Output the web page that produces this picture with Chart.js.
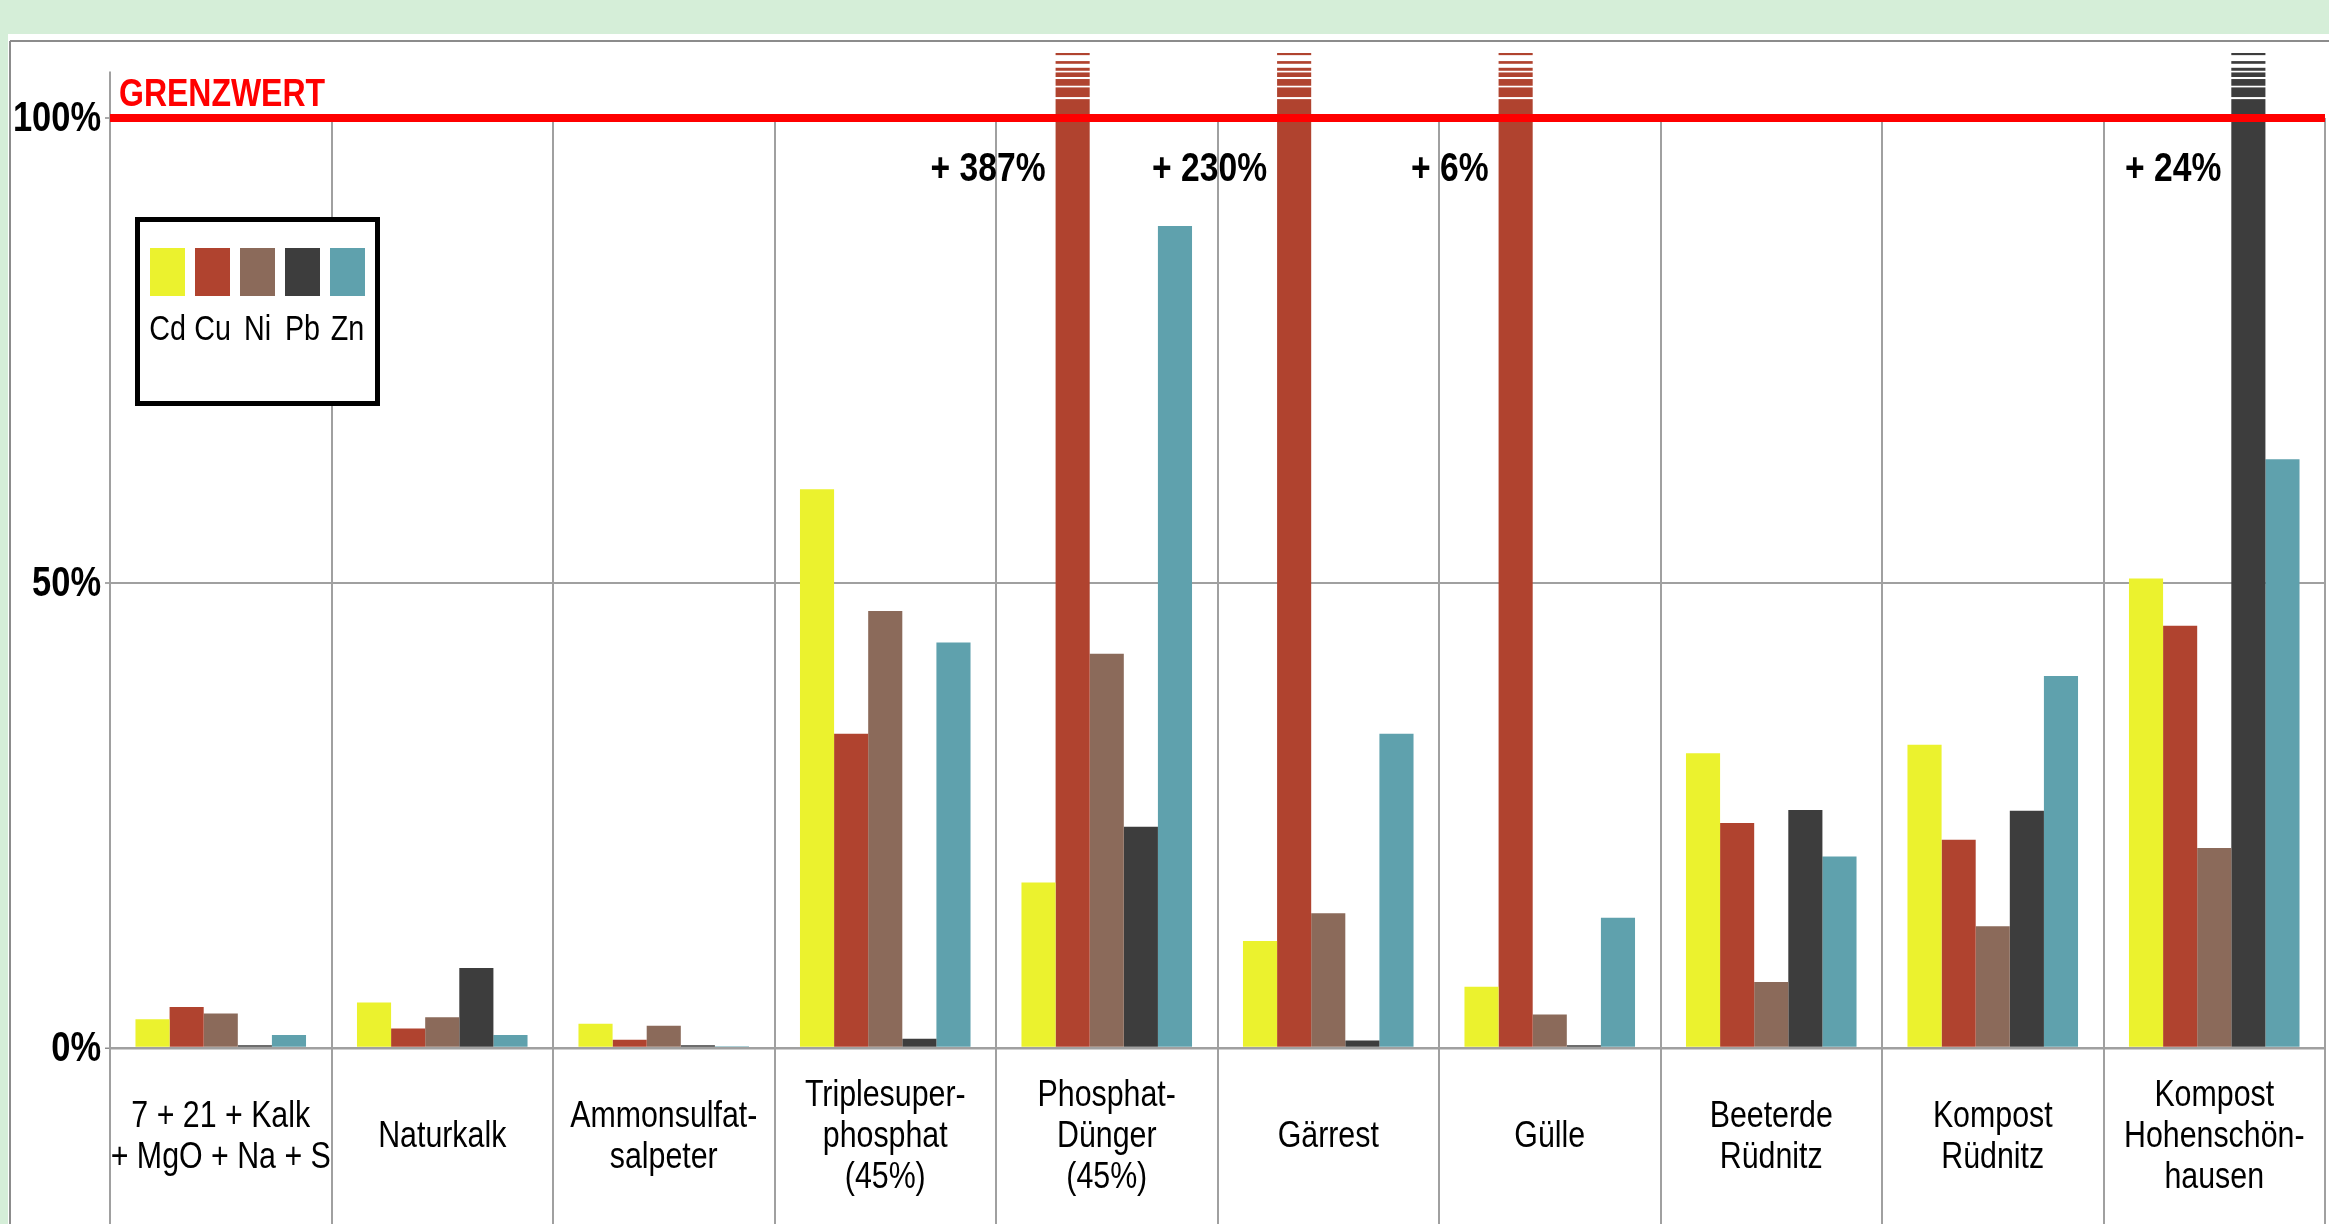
<!DOCTYPE html>
<html>
<head>
<meta charset="utf-8">
<title>Schwermetalle in Düngern</title>
<script src="https://cdn.jsdelivr.net/npm/chart.js@4.4.1/dist/chart.umd.min.js"></script>
<style>
  html, body { margin: 0; padding: 0; background: #d5eed8; overflow: hidden; }
  #wrap { width: 2329px; height: 1224px; }
</style>
</head>
<body>
<div id="wrap"><canvas id="metalChart" width="2329" height="1224"></canvas></div>
<script>
// categories (multi-line labels as in the original)
var categories = [
  ['7 + 21 + Kalk', '+ MgO + Na + S'],
  ['Naturkalk'],
  ['Ammonsulfat-', 'salpeter'],
  ['Triplesuper-', 'phosphat', '(45%)'],
  ['Phosphat-', 'Dünger', '(45%)'],
  ['Gärrest'],
  ['Gülle'],
  ['Beeterde', 'Rüdnitz'],
  ['Kompost', 'Rüdnitz'],
  ['Kompost', 'Hohenschön-', 'hausen']
];

var metals = ['Cd', 'Cu', 'Ni', 'Pb', 'Zn'];

// % of the limit value (Grenzwert)
var cd = [3.1, 4.9, 2.6, 60.1, 17.8, 11.5, 6.6, 31.7, 32.6, 50.5];
var cu = [4.4, 2.1, 0.9, 33.8, 487, 330, 106, 24.2, 22.4, 45.4];
var ni = [3.7, 3.3, 2.4, 47.0, 42.4, 14.5, 3.6, 7.1, 13.1, 21.5];
var pb = [0.3, 8.6, 0.3, 1.0, 23.8, 0.8, 0.3, 25.6, 25.5, 124];
var zn = [1.4, 1.4, 0.2, 43.6, 88.4, 33.8, 14.0, 20.6, 40.0, 63.3];

var yTicks = [0, 50, 100];
var limitValue = 100;
var axisTop = 107;       // bars over the limit are drawn as broken bars up to here
var axisLineTop = 105;

var colors = ['#ebf22e', '#b0432f', '#8b6a5a', '#3d3d3d', '#5fa1ad'];
var series = [cd, cu, ni, pb, zn];

var sans = "'Liberation Sans', Arial, sans-serif";
var squeeze = 0.82;      // narrow look of the original lettering
var gridGrey = '#a0a0a0';

function narrowText(c, text, x, y, font, align, baseline) {
  c.save();
  c.font = font;
  c.textAlign = align;
  c.textBaseline = baseline || 'alphabetic';
  c.translate(x, y);
  c.scale(squeeze, 1);
  c.fillText(text, 0, 0);
  c.restore();
}

var backdrop = {
  id: 'backdrop',
  beforeDraw: function (chart) {
    var c = chart.ctx, w = chart.width, h = chart.height;
    c.save();
    c.fillStyle = '#d5eed8';
    c.fillRect(0, 0, w, h);
    c.fillStyle = '#ffffff';
    c.fillRect(8, 34, w - 8, h - 34);
    c.strokeStyle = '#8c8c8c';
    c.lineWidth = 2;
    c.beginPath();
    c.moveTo(10, 41); c.lineTo(w, 41);
    c.moveTo(10, 41); c.lineTo(10, h);
    c.stroke();
    c.restore();
  }
};

// vertical separators between categories, from the limit line down to the bottom
var categoryLines = {
  id: 'categoryLines',
  beforeDatasetsDraw: function (chart) {
    var c = chart.ctx, xs = chart.scales.x, ys = chart.scales.y;
    var half = (xs.getPixelForValue(1) - xs.getPixelForValue(0)) / 2;
    c.save();
    c.strokeStyle = gridGrey;
    c.lineWidth = 2;
    for (var i = 0; i <= categories.length; i++) {
      var x = Math.round(xs.getPixelForValue(i) - half);
      var top = i === 0 ? ys.getPixelForValue(axisLineTop) : ys.getPixelForValue(limitValue);
      c.beginPath();
      c.moveTo(x, top);
      c.lineTo(x, chart.height);
      c.stroke();
    }
    c.restore();
  }
};

var overLimit = {
  id: 'overLimit',
  afterDatasetsDraw: function (chart, args, opts) {
    var c = chart.ctx, ys = chart.scales.y;
    var yl = ys.getPixelForValue(limitValue);
    c.save();
    series.forEach(function (vals, d) {
      var meta = chart.getDatasetMeta(d);
      vals.forEach(function (v, i) {
        if (v <= limitValue) return;
        var bar = meta.data[i];
        var left = bar.x - bar.width / 2;
        c.fillStyle = '#ffffff';
        opts.gaps.forEach(function (g) {
          var y1 = ys.getPixelForValue(g[1]);
          var y2 = ys.getPixelForValue(g[0]);
          c.fillRect(left - 1, y1, bar.width + 2, y2 - y1);
        });
        c.fillStyle = '#000000';
        narrowText(c, '+ ' + Math.round(v - limitValue) + '%', left - 10, yl + 63, 'bold 41px ' + sans, 'right');
      });
    });
    // limit line
    c.strokeStyle = '#ff0000';
    c.lineWidth = 8;
    c.beginPath();
    c.moveTo(chart.chartArea.left, yl);
    c.lineTo(chart.chartArea.right, yl);
    c.stroke();
    c.fillStyle = '#ff0000';
    narrowText(c, 'GRENZWERT', chart.chartArea.left + 9, yl - 12, 'bold 39px ' + sans, 'left');
    c.restore();
  }
};

// axis labels in the narrow lettering, placed from the chart scales
var axisLabels = {
  id: 'axisLabels',
  afterDraw: function (chart) {
    var c = chart.ctx, xs = chart.scales.x, ys = chart.scales.y;
    c.save();
    c.fillStyle = '#000000';
    categories.forEach(function (lines, i) {
      var x = xs.getPixelForValue(i);
      var mid = xs.top + 89;
      lines.forEach(function (t, k) {
        narrowText(c, t, x, mid + (k - (lines.length - 1) / 2) * 41, '37px ' + sans, 'center', 'middle');
      });
    });
    yTicks.forEach(function (v) {
      narrowText(c, v + '%', ys.right - 9, ys.getPixelForValue(v) + 1, 'bold 42px ' + sans, 'right', 'middle');
    });
    c.restore();
  }
};

var boxLegend = {
  id: 'boxLegend',
  afterDraw: function (chart) {
    var c = chart.ctx, a = chart.chartArea;
    var bx = a.left + 25, by = a.top + 164, bw = 245, bh = 189;
    c.save();
    c.fillStyle = '#ffffff';
    c.fillRect(bx, by, bw, bh);
    c.strokeStyle = '#000000';
    c.lineWidth = 5;
    c.strokeRect(bx + 2.5, by + 2.5, bw - 5, bh - 5);
    chart.data.datasets.forEach(function (ds, k) {
      var sx = bx + 15 + k * 45;
      c.fillStyle = ds.backgroundColor;
      c.fillRect(sx, by + 31, 35, 48);
      c.fillStyle = '#000000';
      narrowText(c, ds.label, sx + 17.5, by + 123, '35px ' + sans, 'center');
    });
    c.restore();
  }
};

var ctx = document.getElementById('metalChart').getContext('2d');
var chart = new Chart(ctx, {
  type: 'bar',
  data: {
    labels: categories,
    datasets: series.map(function (vals, k) {
      return {
        label: metals[k],
        data: vals.map(function (v) { return v > limitValue ? axisTop : v; }),
        backgroundColor: colors[k],
        borderWidth: 0,
        categoryPercentage: 0.77,
        barPercentage: 1.0,
        clip: 0
      };
    })
  },
  plugins: [backdrop, categoryLines, overLimit, axisLabels, boxLegend],
  options: {
    responsive: false,
    animation: false,
    layout: { padding: { left: 0, top: 53, right: 4, bottom: 0 } },
    plugins: {
      legend: { display: false },
      tooltip: { enabled: false },
      overLimit: {
        // white breaks in the top of the broken bars (value ranges)
        gaps: [[106.13, 106.77], [105.41, 105.84], [104.91, 105.09], [104.20, 104.42], [103.30, 103.48], [102.04, 102.26]]
      }
    },
    scales: {
      x: {
        grid: { display: false, drawTicks: false },
        border: { display: false },
        ticks: { display: false },
        afterFit: function (s) { s.height = 176; }
      },
      y: {
        min: 0,
        max: axisTop,
        afterBuildTicks: function (s) {
          s.ticks = yTicks.map(function (v) { return { value: v }; });
        },
        grid: {
          color: function (c) {
            return c.tick && c.tick.value === limitValue ? 'rgba(0,0,0,0)' : gridGrey;
          },
          lineWidth: function (c) { return c.tick && c.tick.value === 0 ? 2.5 : 2; },
          tickLength: 5,
          tickColor: '#8c8c8c',
          tickWidth: 1.5
        },
        border: { display: false },
        ticks: { display: false },
        afterFit: function (s) { s.width = 110; }
      }
    }
  }
});
</script>
</body>
</html>
